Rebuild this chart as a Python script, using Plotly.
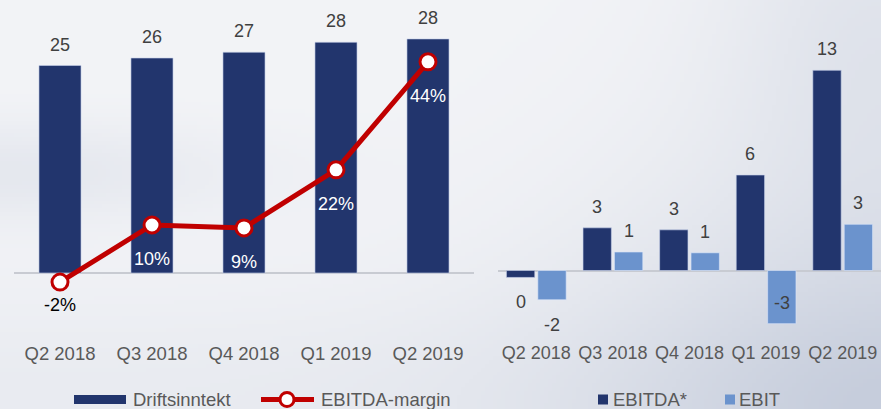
import base64
import struct
import zlib

import numpy as np
import plotly.graph_objects as go

# ---------------- data ----------------
categories = ["Q2 2018", "Q3 2018", "Q4 2018", "Q1 2019", "Q2 2019"]
driftsinntekt = [25.0, 25.9, 26.6, 27.8, 28.2]
driftsinntekt_labels = ["25", "26", "27", "28", "28"]
ebitda_margin = [-1.9, 10.0, 9.4, 21.5, 44.0]
margin_labels = ["-2%", "10%", "9%", "22%", "44%"]
ebitda = [-0.45, 2.77, 2.64, 6.2, 13.0]
ebitda_labels = ["0", "3", "3", "6", "13"]
ebit = [-1.9, 1.2, 1.15, -3.45, 3.0]
ebit_labels = ["-2", "1", "1", "-3", "3"]

W, H = 881, 409
NAVY = "#22356D"
LIGHT = "#6B93CD"
RED = "#C00000"
TXT = "#404040"
TICK = "#595959"
FONT = "Liberation Sans, Arial, sans-serif"


# ---------------- background image ----------------
def background_png(w=221, h=103):
    ys, xs = np.mgrid[0:h, 0:w]
    u = xs / (w - 1)
    v = ys / (h - 1)
    base = np.array([243, 244, 247], dtype=float)
    dark = np.array([198, 205, 220], dtype=float)
    t = np.zeros((h, w))
    t += 0.80 * np.exp(-(((u - 1.05) / 0.38) ** 2 + ((v - 1.05) / 0.65) ** 2))
    t += 0.35 * np.exp(-(((u - 1.0) / 0.18) ** 2 + ((v - 0.05) / 0.45) ** 2))
    t += 0.30 * np.exp(-((u / 0.28) ** 2 + ((v - 0.42) / 0.12) ** 2))
    t += 0.22 * np.exp(-(((v - 1.0) / 0.30) ** 2))
    t = np.clip(t, 0, 1)[..., None]
    img = (base * (1 - t) + dark * t).astype(np.uint8)
    raw = b"".join(b"\x00" + img[r].tobytes() for r in range(h))

    def chunk(tag, data):
        c = struct.pack(">I", len(data)) + tag + data
        return c + struct.pack(">I", zlib.crc32(tag + data) & 0xFFFFFFFF)

    png = b"\x89PNG\r\n\x1a\n"
    png += chunk(b"IHDR", struct.pack(">IIBBBBB", w, h, 8, 2, 0, 0, 0))
    png += chunk(b"IDAT", zlib.compress(raw, 9))
    png += chunk(b"IEND", b"")
    return "data:image/png;base64," + base64.b64encode(png).decode()


fig = go.Figure()

# ---------------- left panel ----------------
fig.add_trace(go.Bar(
    x=categories, y=driftsinntekt, name="Driftsinntekt",
    marker=dict(color=NAVY, line=dict(color="rgba(200,210,235,0.6)", width=1)),
    width=0.457, xaxis="x", yaxis="y", showlegend=False,
))
fig.add_trace(go.Scatter(
    x=categories, y=ebitda_margin, name="EBITDA-margin",
    mode="lines+markers",
    line=dict(color=RED, width=5),
    marker=dict(size=16, color="white", line=dict(color=RED, width=3)),
    xaxis="x", yaxis="y2", showlegend=False, cliponaxis=False,
))

# ---------------- right panel ----------------
fig.add_trace(go.Bar(
    x=categories, y=ebitda, name="EBITDA*",
    marker=dict(color=NAVY, line=dict(color="rgba(200,210,235,0.6)", width=1)),
    width=0.37, offset=-0.39, xaxis="x2", yaxis="y3", showlegend=False,
))
fig.add_trace(go.Bar(
    x=categories, y=ebit, name="EBIT",
    marker=dict(color=LIGHT, line=dict(color="rgba(220,230,250,0.6)", width=1)),
    width=0.37, offset=0.02, xaxis="x2", yaxis="y3", showlegend=False,
))

annotations = []
# left bar values
for c, v, t in zip(categories, driftsinntekt, driftsinntekt_labels):
    annotations.append(dict(x=c, y=v, xref="x", yref="y", text=t, showarrow=False,
                            yshift=21, font=dict(size=18, color=TXT, family=FONT)))
# margin labels
for c, v, t in zip(categories, ebitda_margin, margin_labels):
    neg = v < 0
    annotations.append(dict(x=c, y=v, xref="x", yref="y2", text=t, showarrow=False,
                            yshift=-23 if neg else -34,
                            font=dict(size=18, color="black" if neg else "white", family=FONT)))
# right labels
half = 0.205
for i, (v, t) in enumerate(zip(ebitda, ebitda_labels)):
    annotations.append(dict(x=i - half, y=v, xref="x2", yref="y3", text=t, showarrow=False,
                            yshift=21 if v >= 0 else -25,
                            font=dict(size=18, color=TXT, family=FONT)))
for i, (v, t) in enumerate(zip(ebit, ebit_labels)):
    if v >= 0:
        ys = 21
    elif v < -3:
        ys = 21  # label drawn inside the long negative bar
    else:
        ys = -25
    annotations.append(dict(x=i + half, y=v, xref="x2", yref="y3", text=t, showarrow=False,
                            yshift=ys, font=dict(size=18, color=TXT, family=FONT)))

# ---------------- manual legends ----------------
def px(x):
    return x / W


def py(y):
    return 1 - y / H


shapes = [
    dict(type="rect", xref="paper", yref="paper", x0=px(74), x1=px(126), y0=py(404), y1=py(395),
         fillcolor=NAVY, line=dict(width=0)),
    dict(type="line", xref="paper", yref="paper", x0=px(261), x1=px(314), y0=py(399.5), y1=py(399.5),
         line=dict(color=RED, width=5)),
    dict(type="circle", xref="paper", yref="paper", xsizemode="pixel", ysizemode="pixel",
         xanchor=px(287), yanchor=py(399.5), x0=-7, x1=7, y0=-7, y1=7,
         fillcolor="white", line=dict(color=RED, width=3)),
    dict(type="rect", xref="paper", yref="paper", x0=px(598), x1=px(608), y0=py(404.5), y1=py(394.5),
         fillcolor=NAVY, line=dict(width=0)),
    dict(type="rect", xref="paper", yref="paper", x0=px(725), x1=px(735), y0=py(404.5), y1=py(394.5),
         fillcolor=LIGHT, line=dict(width=0)),
]
for x0, txt in [(131, "Driftsinntekt"), (319, "EBITDA-margin"), (611, "EBITDA*"), (737, "EBIT")]:
    annotations.append(dict(x=px(x0), y=py(399.5), xref="paper", yref="paper", text=txt,
                            showarrow=False, xanchor="left", yanchor="middle",
                            font=dict(size=18.5, color=TICK, family=FONT)))

ybot = 69 / H
zero_left = 273
zero_right = 270.5
plot_h = 340
s_left, s_margin, s_right = 8.3, 4.8, 15.4

fig.update_layout(
    width=W, height=H,
    margin=dict(l=0, r=0, t=0, b=0),
    paper_bgcolor="#EEF0F4", plot_bgcolor="rgba(0,0,0,0)",
    font=dict(family=FONT, size=18, color=TICK),
    barmode="overlay",
    showlegend=False,
    hovermode=False,
    images=[dict(source=background_png(), xref="paper", yref="paper", x=0, y=1,
                 sizex=1, sizey=1, sizing="stretch", layer="below", xanchor="left", yanchor="top")],
    xaxis=dict(domain=[14 / W, 474 / W], anchor="y", type="category", showgrid=False,
               showline=False, ticks="", tickfont=dict(size=18.5, color=TICK), fixedrange=True),
    yaxis=dict(domain=[ybot, 1], anchor="x",
               range=[-(plot_h - zero_left) / s_left, zero_left / s_left],
               showgrid=False, showticklabels=False, zeroline=True,
               zerolinecolor="#C8CBD2", zerolinewidth=2),
    yaxis2=dict(domain=[ybot, 1], overlaying="y", anchor="x",
                range=[-(plot_h - zero_left) / s_margin, zero_left / s_margin],
                visible=False, showgrid=False, zeroline=False),
    xaxis2=dict(domain=[498 / W, 1], anchor="y3", type="category", showgrid=False,
                showline=False, ticks="", tickfont=dict(size=18, color=TICK)),
    yaxis3=dict(domain=[ybot, 1], anchor="x2",
                range=[-(plot_h - zero_right) / s_right, zero_right / s_right],
                showgrid=False, showticklabels=False, zeroline=True,
                zerolinecolor="#C8CBD2", zerolinewidth=2),
    annotations=annotations,
    shapes=shapes,
)

fig.write_html(
    "out.html",
    config={"displayModeBar": False, "staticPlot": True},
    post_script="document.body.style.margin='0';document.body.style.padding='0';"
                "document.body.style.overflow='hidden';",
)
